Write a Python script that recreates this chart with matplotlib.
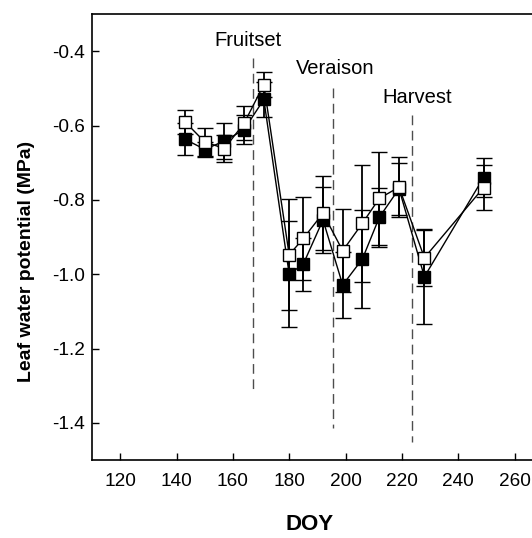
import matplotlib
matplotlib.use("Agg")
import matplotlib.pyplot as plt

plt.rcParams['font.family'] = ['Liberation Sans', 'DejaVu Sans']

doy = [143, 150, 157, 164, 171, 180, 185, 192, 199, 206, 212, 219, 228, 249]
open_vals = [-0.590, -0.644, -0.662, -0.594, -0.490, -0.948, -0.904, -0.836,
             -0.937, -0.863, -0.796, -0.766, -0.956, -0.767]
open_err = [0.033, 0.038, 0.037, 0.046, 0.033, 0.149, 0.112, 0.100,
            0.111, 0.157, 0.125, 0.080, 0.077, 0.061]
filled_vals = [-0.637, -0.664, -0.642, -0.611, -0.530, -1.000, -0.973, -0.854,
               -1.029, -0.959, -0.847, -0.770, -1.007, -0.740]
filled_err = [0.043, 0.020, 0.048, 0.040, 0.047, 0.142, 0.071, 0.088,
              0.089, 0.131, 0.080, 0.070, 0.127, 0.053]

events = ["Fruitset", "Veraison", "Harvest"]
event_doy = [167.3, 195.4, 223.7]
event_line_top = [-0.419, -0.499, -0.572]
event_line_bottom = [-1.311, -1.413, -1.451]
event_label_x = [165.4, 196.2, 225.4]
event_label_y = [-0.37, -0.446, -0.526]

x_ticks = [120, 140, 160, 180, 200, 220, 240, 260]
y_ticks = [-1.4, -1.2, -1.0, -0.8, -0.6, -0.4]

fig = plt.figure(figsize=(5.32, 5.38), dpi=100)
ax = fig.add_axes([92/532, 1-460/538, 1-92/532, (460-14)/538])

for xd, yt, yb in zip(event_doy, event_line_top, event_line_bottom):
    ax.plot([xd, xd], [yt, yb], color='0.3', lw=1.0, dashes=(7, 4))
for name, xl, yl in zip(events, event_label_x, event_label_y):
    ax.text(xl, yl, name, ha='center', va='center', fontsize=14.5)

ax.errorbar(doy, filled_vals, yerr=filled_err, color='black', lw=1.0,
            elinewidth=1.3, capsize=6, capthick=1.3, marker='s', ms=9,
            mfc='black', mec='black', mew=1.0, zorder=3)
ax.errorbar(doy, open_vals, yerr=open_err, color='black', lw=1.0,
            elinewidth=1.3, capsize=6, capthick=1.3, marker='s', ms=9,
            mfc='white', mec='black', mew=1.0, zorder=4)

ax.set_xlim(110, 266.2)
ax.set_ylim(-1.5, -0.3)
ax.set_xticks(x_ticks)
ax.set_yticks(y_ticks)
ax.set_yticklabels([f"{v:.1f}" for v in y_ticks])
ax.tick_params(direction='in', length=5, width=1.0, labelsize=13.7)
ax.tick_params(axis='y', pad=5)
ax.tick_params(axis='x', pad=9)
ax.spines['right'].set_visible(False)
for s in ['left', 'bottom', 'top']:
    ax.spines[s].set_linewidth(1.2)

ax.set_xlabel("DOY", fontsize=16, fontweight='bold')
ax.xaxis.set_label_coords(0.495, -0.122)
ax.set_ylabel("Leaf water potential (MPa)", fontsize=14, fontweight='bold')
ax.yaxis.set_label_coords(-0.13, 0.446)

fig.savefig("out.png", dpi=100)
